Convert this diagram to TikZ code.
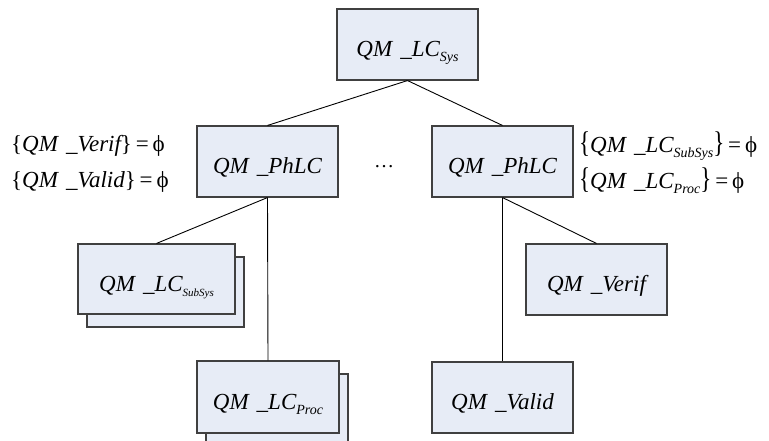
\documentclass[tikz,border=0pt]{standalone}
\usepackage{fontspec}
\setmainfont{Liberation Serif}
\usepackage{tikz}
\usetikzlibrary{positioning}
\tikzstyle{diagram} = [x = 1pt, y = -1pt]
\definecolor{boxFill}{RGB}{231,236,246}
\definecolor{boxBorder}{RGB}{64,64,64}
\tikzstyle{boxStyle} = [draw=boxBorder, fill=boxFill, line width=1.1pt, minimum width=141pt, minimum height=71pt, inner sep=0pt, text height=25pt, text depth=1pt, font=\fontsize{23}{26}\selectfont\itshape]
\tikzstyle{shadowStyle} = [draw=boxBorder, fill=boxFill, line width=1.1pt]
\tikzstyle{treeLine} = [color=black, line width=0.9pt]
\tikzstyle{setText} = [font=\fontsize{23}{26}\selectfont\itshape, inner sep=0pt, anchor=base west]
\newcommand{\qmName}[1]{QM\hspace{.35em}\_#1}
\newcommand{\qmSub}[3]{QM\hspace{.35em}\_#1\raisebox{-5pt}{\fontsize{#3}{#3}\selectfont #2}}
\newcommand{\emptySet}[2]{\scalebox{1}[#2]{\upshape\{}#1\scalebox{1}[#2]{\upshape\}}{\upshape\,=\,ϕ}}
\newcommand{\shadowBox}[6]{
  \filldraw [shadowStyle] (#2 - #4/2 + 9, #3 - #5/2 + 13) rectangle + (#4, #5);
  \node [boxStyle, minimum width=#4pt, minimum height=#5pt] (#1) at (#2, #3) {#6};
}
\begin{document}
\begin{tikzpicture}[diagram]
  \useasboundingbox (0, 0) rectangle (769, 441);
  \clip (0, 0) rectangle (769, 441);
  \node [boxStyle] (sysBox) at (407.5, 44.5) {\qmSub{LC}{Sys}{14}};
  \node [boxStyle] (phlcLeft) at (267.5, 161.5) {\qmName{PhLC}};
  \node [boxStyle] (phlcRight) at (502.5, 161.5) {\qmName{PhLC}};
  \node [font=\fontsize{20}{24}\selectfont, anchor=base, inner sep=0pt] (dots) at (384, 168) {\dots};
  \shadowBox{subSysBox}{156.5}{279}{157}{70}{\qmSub{LC}{SubSys}{11}}
  \shadowBox{procBox}{268}{397}{142}{72}{\qmSub{LC}{Proc}{14}}
  \node [boxStyle] (verifBox) at (596.5, 279.5) {\qmName{Verif}};
  \node [boxStyle] (validBox) at (502.5, 397.5) {\qmName{Valid}};
  % tree lines
  \draw [treeLine] (sysBox.south) -- (phlcLeft.north);
  \draw [treeLine] (sysBox.south) -- (phlcRight.north);
  \draw [treeLine] (phlcLeft.south) -- (subSysBox.north);
  \draw [treeLine] (phlcLeft.south) -- (procBox.north);
  \draw [treeLine] (phlcRight.south) -- (verifBox.north);
  \draw [treeLine] (phlcRight.south) -- (validBox.north);
  % empty sets
  \node [setText] (verifEmpty) at (11, 152) {\emptySet{\qmName{Verif}}{1}};
  \node [setText] (validEmpty) at (11, 188) {\emptySet{\qmName{Valid}}{1}};
  \node [setText] (subSysEmpty) at (579, 153) {\emptySet{\qmSub{LC}{SubSys}{14}}{1.3}};
  \node [setText] (procEmpty) at (579, 189) {\emptySet{\qmSub{LC}{Proc}{14}}{1.3}};
\end{tikzpicture}
\end{document}
